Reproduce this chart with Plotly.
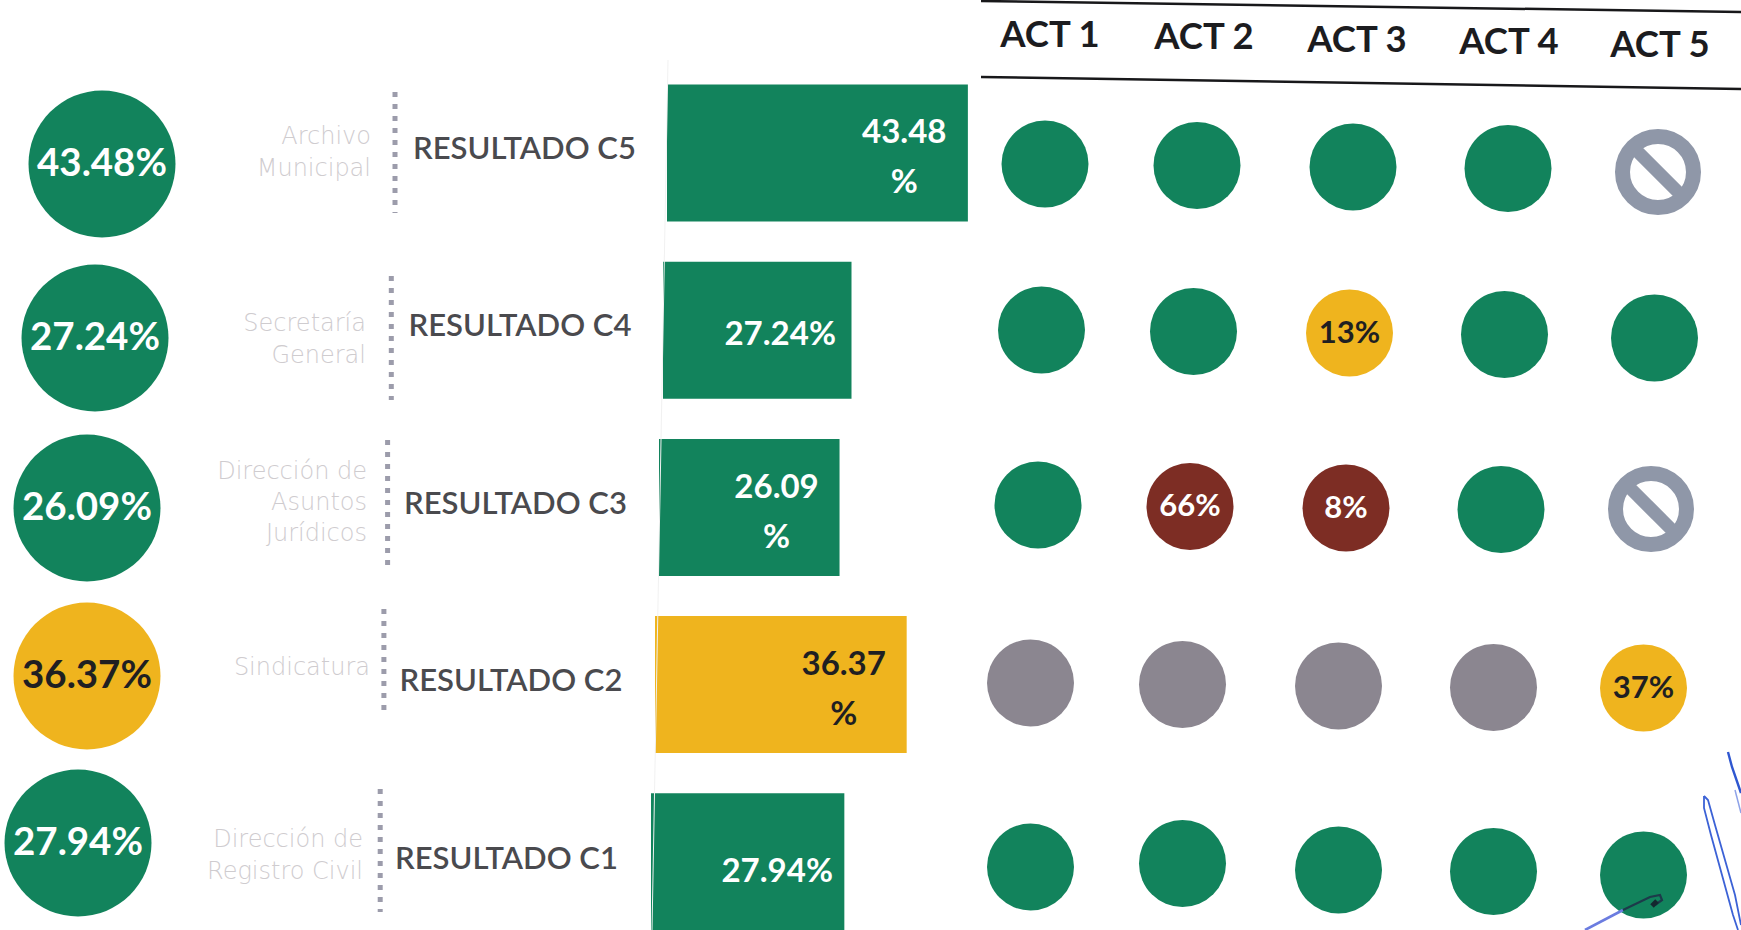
import plotly.graph_objects as go

# ---------- data ----------
resultados = ["RESULTADO C5", "RESULTADO C4", "RESULTADO C3", "RESULTADO C2", "RESULTADO C1"]
areas = ["Archivo<br>Municipal", "Secretaría<br>General", "Dirección de<br>Asuntos<br>Jurídicos",
         "Sindicatura", "Dirección de<br>Registro Civil"]
valores = [43.48, 27.24, 26.09, 36.37, 27.94]
estado_resultado = ["verde", "verde", "verde", "amarillo", "verde"]
bar_labels = ["43.48<br>%", "27.24%", "26.09<br>%", "36.37<br>%", "27.94%"]
circle_labels = ["43.48%", "27.24%", "26.09%", "36.37%", "27.94%"]
actividades = ["ACT 1", "ACT 2", "ACT 3", "ACT 4", "ACT 5"]
act_estado = [
    ["verde", "verde", "verde", "verde", "na"],
    ["verde", "verde", "amarillo", "verde", "verde"],
    ["verde", "rojo", "rojo", "verde", "na"],
    ["gris", "gris", "gris", "gris", "amarillo"],
    ["verde", "verde", "verde", "verde", "verde"],
]
act_texto = [
    ["", "", "", "", ""],
    ["", "", "13%", "", ""],
    ["", "66%", "8%", "", ""],
    ["", "", "", "", "37%"],
    ["", "", "", "", ""],
]
firma_a_x = [1704, 1708, 1715, 1725, 1735, 1741, None, 1704, 1704, 1711, 1722, 1733, 1738]
firma_a_y = [796, 800, 825, 860, 895, 925, None, 796, 808, 835, 875, 915, 930]
firma_b_x = [1728, 1732, 1741]
firma_b_y = [752, 767, 793]
firma_e_x = [1735, 1741]
firma_e_y = [790, 813]
firma_c_x = [1585, 1623]
firma_c_y = [930, 910]
firma_d_x = [1623, 1650, 1660, 1662, 1655]
firma_d_y = [910, 897, 895, 900, 905]
firma_f_x = [1657, 1652]
firma_f_y = [901, 906]

# ---------- style / layout ----------
W, H = 1741, 930
COL = {"verde": "#12835c", "amarillo": "#efb41e", "rojo": "#7d2d24", "gris": "#8b8690", "na": "#8f97a8"}
TXT = {"verde": "#ffffff", "amarillo": "#1f1f22", "rojo": "#ffffff", "gris": "#ffffff"}
FONT = "Lato"
n = len(resultados)
rows = list(range(n))

fig = go.Figure()

# pixel-calibrated overlay axes
ax = dict(visible=False, fixedrange=True)
PX_PER_PCT = 6.92
BAR_ZERO = 667
BAR_ROW0, BAR_ROW_STEP = 153, 177.2
layout_axes = dict(
    xaxis=dict(ax, domain=[0, 1], range=[-BAR_ZERO / PX_PER_PCT, (W - BAR_ZERO) / PX_PER_PCT]),
    yaxis=dict(ax, domain=[0, 1], range=[(H - BAR_ROW0) / BAR_ROW_STEP, -BAR_ROW0 / BAR_ROW_STEP]),
    xaxis2=dict(ax, domain=[0, 1], range=[0, W], overlaying="x"),
    yaxis2=dict(ax, domain=[0, 1], range=[H, 0], overlaying="y"),
)

# --- faint scan edge beside the bars
fig.add_trace(go.Scatter(
    x=[668, 652], y=[60, 930], xaxis="x2", yaxis="y2", mode="lines",
    line=dict(color="#f1f1f1", width=1), hoverinfo="skip",
))

# --- bars
BAR_SKEW = -4.0 / PX_PER_PCT
bases = [BAR_SKEW * r for r in rows]
LABEL_INSET = [9.2, 10.3, 9.1, 9.1, 9.7]
fig.add_trace(go.Bar(
    y=rows, x=valores, base=bases, orientation="h", width=137 / BAR_ROW_STEP,
    marker=dict(color=[COL[e] for e in estado_resultado], line_width=0),
    hoverinfo="skip",
))
# bar labels: wrapped lines are placed one by one, the scan's line spacing is wider than the default
ONE_LINE_DY = [0, 7, 0, 0, 12]
FIRST_LINE_DY, SECOND_LINE_DY = -18, 32
lx, ly, lt, lc = [], [], [], []
for r in rows:
    parts = bar_labels[r].split("<br>")
    xc = bases[r] + valores[r] - LABEL_INSET[r]
    offs = [ONE_LINE_DY[r]] if len(parts) == 1 else [FIRST_LINE_DY, SECOND_LINE_DY]
    for part, o in zip(parts, offs):
        lx.append(xc); ly.append(r + o / BAR_ROW_STEP); lt.append(part)
        lc.append(TXT[estado_resultado[r]])
fig.add_trace(go.Scatter(
    y=ly, x=lx, mode="text", text=lt, textposition="middle center",
    textfont=dict(family=FONT, size=33, weight=700, color=lc),
    hoverinfo="skip",
))

# --- big circles on the left
cx = [102, 95, 87, 87, 78]
cy = [164, 338, 508, 676, 843]
fig.add_trace(go.Scatter(
    x=cx, y=cy, xaxis="x2", yaxis="y2", mode="markers",
    marker=dict(size=147, color=[COL[e] for e in estado_resultado], line_width=0),
    hoverinfo="skip",
))
fig.add_trace(go.Scatter(
    x=cx, y=[v + 2 for v in cy], xaxis="x2", yaxis="y2", mode="text",
    text=circle_labels, textposition="middle center",
    textfont=dict(family=FONT, size=38.5, weight=700,
                  color=[TXT[e] for e in estado_resultado]),
    hoverinfo="skip",
))

# --- area labels
fig.add_trace(go.Scatter(
    x=[371, 366, 367, 370, 363], y=[154, 341, 504, 669, 857], xaxis="x2", yaxis="y2", mode="text",
    text=areas, textposition="middle left",
    textfont=dict(family="DejaVu Sans", size=24, weight=200, color="#cfcccf"),
    hoverinfo="skip",
))

# --- dotted separators
sep_top = [92, 276, 440, 609, 789]
sep_bot = [213, 400, 565, 713, 912]
for r in rows:
    fig.add_trace(go.Scatter(
        x=[395 - 3.7 * r] * 2, y=[sep_top[r], sep_bot[r]], xaxis="x2", yaxis="y2", mode="lines",
        line=dict(color="#9c9cab", width=5, dash="5px,7px"), hoverinfo="skip",
    ))

# --- RESULTADO labels
fig.add_trace(go.Scatter(
    x=[413 - 4.5 * r for r in rows], y=[151 + 177.5 * r for r in rows], xaxis="x2", yaxis="y2",
    mode="text", text=resultados, textposition="middle right",
    textfont=dict(family=FONT, size=31, weight=600, color="#4a4a4e"),
    hoverinfo="skip",
))

# --- activity dots
COL_X = [1045, 1197, 1353, 1508, 1658]
ROW_DX = [0, -3.5, -7, -14.5, -14.5]
ROW_Y = [164, 330, 505, 683, 867]
COL_DY = [0, 1.5, 3, 4.5, 8]
SCAN_NUDGE = {(2, 4): -4, (3, 4): -3, (4, 1): -5}
dx, dy, dc, dt, dty, dtx, dtc, nx, ny = [], [], [], [], [], [], [], [], []
for r in rows:
    for c in range(len(actividades)):
        e = act_estado[r][c]
        x, y = COL_X[c] + ROW_DX[r], ROW_Y[r] + COL_DY[c] + SCAN_NUDGE.get((r, c), 0)
        if e == "na":
            nx.append(x); ny.append(y)
        else:
            dx.append(x); dy.append(y); dc.append(COL[e])
            if act_texto[r][c]:
                dt.append(act_texto[r][c]); dtx.append(x); dty.append(y + 2); dtc.append(TXT[e])
fig.add_trace(go.Scatter(
    x=dx, y=dy, xaxis="x2", yaxis="y2", mode="markers",
    marker=dict(size=87, color=dc, line_width=0),
    hoverinfo="skip",
))
fig.add_trace(go.Scatter(
    x=dtx, y=dty, xaxis="x2", yaxis="y2", mode="text",
    text=dt, textposition="middle center",
    textfont=dict(family=FONT, size=31, weight=700, color=dtc),
    hoverinfo="skip",
))
fig.add_trace(go.Scatter(
    x=nx, y=ny, xaxis="x2", yaxis="y2", mode="markers",
    marker=dict(size=71, symbol="circle-open", color=COL["na"], line=dict(width=15, color=COL["na"])),
    hoverinfo="skip",
))
fig.add_trace(go.Scatter(
    x=nx, y=ny, xaxis="x2", yaxis="y2", mode="markers",
    marker=dict(size=45, symbol="line-nw", color=COL["na"], line=dict(width=13, color=COL["na"])),
    hoverinfo="skip",
))

# --- header
fig.add_trace(go.Scatter(
    x=[1050, 1204, 1357, 1509, 1660], y=[38, 40, 43, 45, 48], xaxis="x2", yaxis="y2", mode="text",
    text=actividades, textposition="middle center",
    textfont=dict(family=FONT, size=36.5, weight=700, color="#1c1c1f"),
    hoverinfo="skip",
))
for ys in ([1, 12], [77, 89]):
    fig.add_trace(go.Scatter(
        x=[981, 1741], y=ys, xaxis="x2", yaxis="y2", mode="lines",
        line=dict(color="#18181a", width=2.5), hoverinfo="skip",
    ))

# --- ink signature
for fx, fy, col, w in [(firma_a_x, firma_a_y, "#3c62d6", 1.8), (firma_b_x, firma_b_y, "#2f57d0", 2.4),
                       (firma_e_x, firma_e_y, "#8ea2e8", 1.5),
                       (firma_c_x, firma_c_y, "#6b7ce0", 2.6), (firma_d_x, firma_d_y, "#1d3a4a", 2.2),
                       (firma_f_x, firma_f_y, "#14282f", 5)]:
    fig.add_trace(go.Scatter(x=fx, y=fy, xaxis="x2", yaxis="y2", mode="lines",
                             line=dict(color=col, width=w), hoverinfo="skip"))

fig.update_layout(
    width=W, height=H, margin=dict(l=0, r=0, t=0, b=0),
    paper_bgcolor="#ffffff", plot_bgcolor="#ffffff", showlegend=False, **layout_axes,
)
fig.write_html("out.html", config={"displayModeBar": False},
               post_script="document.body.style.margin='0';document.body.style.overflow='hidden';")
